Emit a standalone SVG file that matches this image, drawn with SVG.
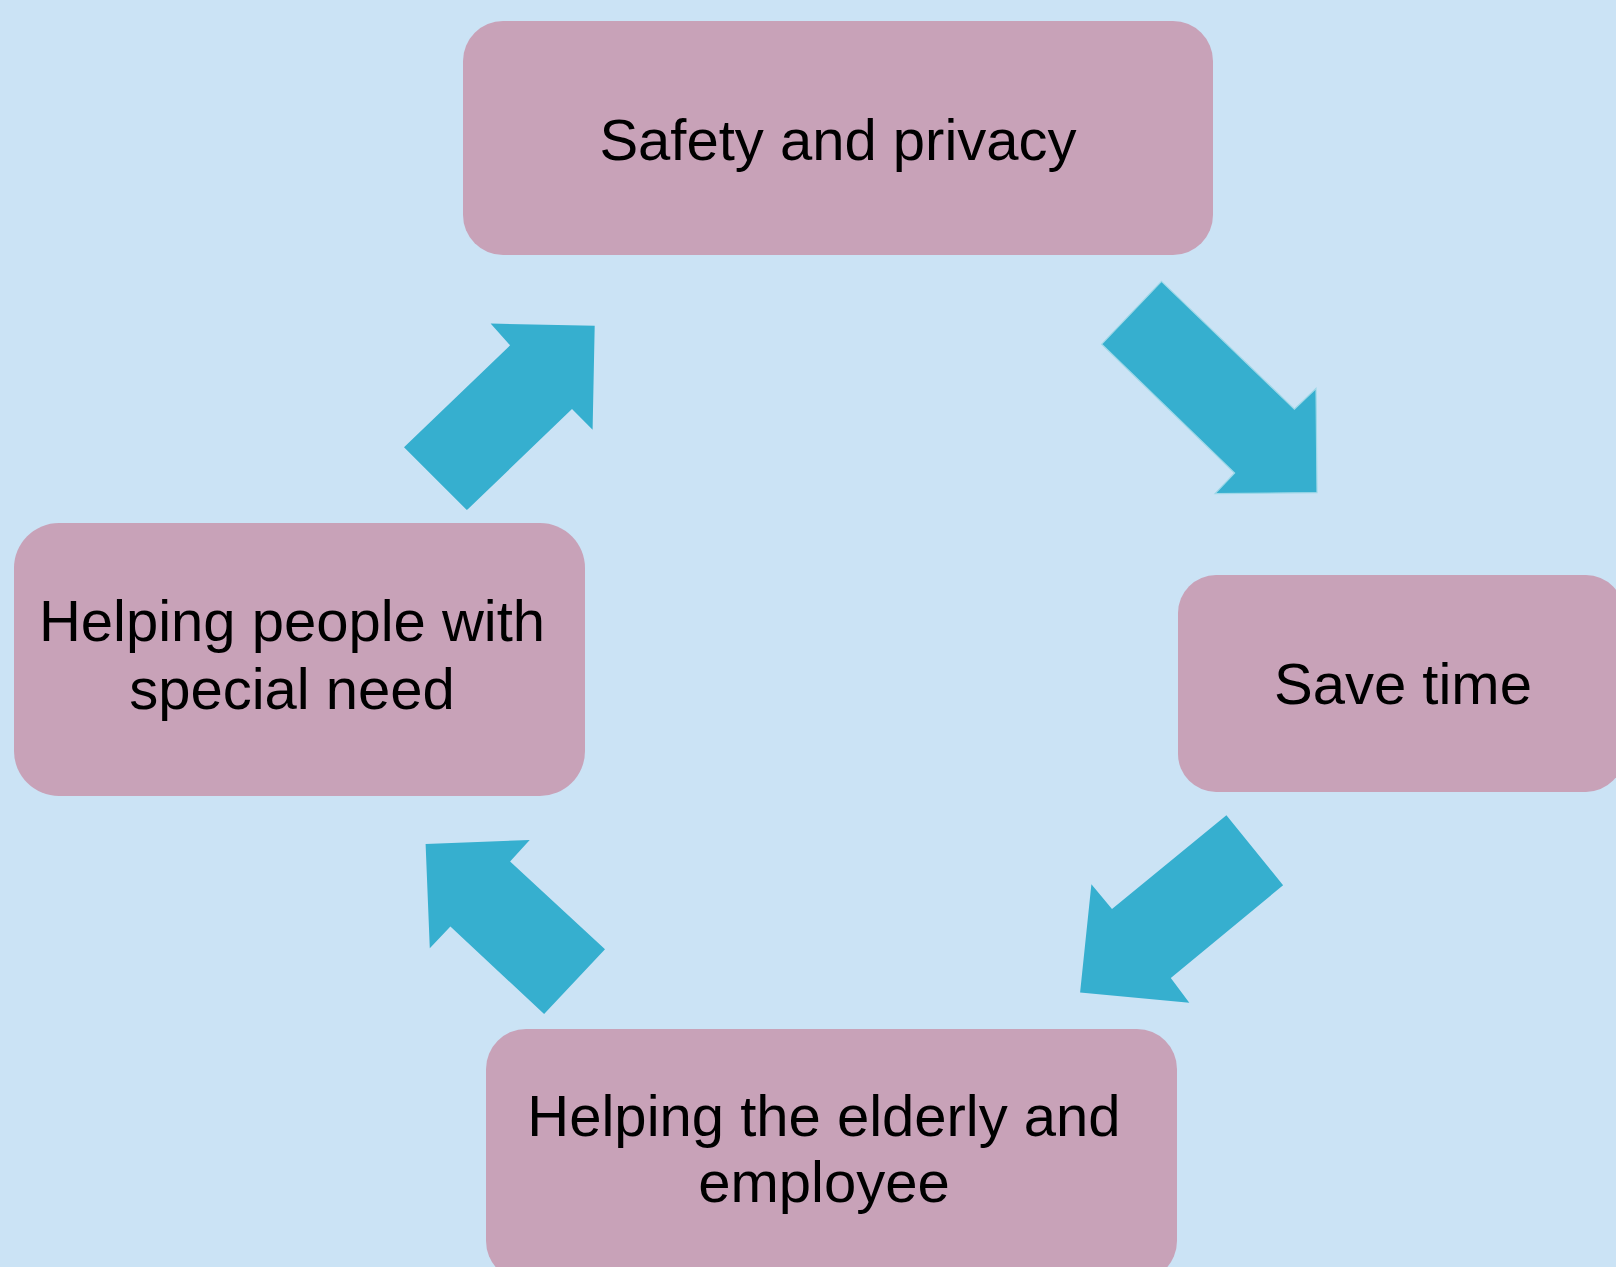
<svg xmlns="http://www.w3.org/2000/svg" width="1616" height="1267" viewBox="0 0 1616 1267">
<style>
.bg{fill:#CBE3F5}
.box{fill:#C8A2B8}
.arrow{fill:#36AFCF}
.outlined{stroke:#9FD8E8;stroke-width:1.2;stroke-linejoin:miter}
.t{font-family:"Liberation Sans","Arial",sans-serif;font-size:58px;fill:#000;text-anchor:middle}
</style>
<rect class="bg" x="0" y="0" width="1616" height="1267"/>
<g id="node-safety">
<rect class="box" x="463" y="21" width="750" height="234" rx="40" ry="40"/>
<text class="t" x="838" y="160">Safety and privacy</text>
</g>
<g id="node-savetime">
<rect class="box" x="1178" y="575" width="446" height="217" rx="38" ry="38"/>
<text class="t" x="1403" y="704">Save time</text>
</g>
<g id="node-elderly">
<rect class="box" x="486" y="1029" width="691" height="252" rx="40" ry="40"/>
<text class="t" x="824" y="1136">Helping the elderly and</text>
<text class="t" x="824" y="1202">employee</text>
</g>
<g id="node-special">
<rect class="box" x="14" y="523" width="571" height="273" rx="45" ry="45"/>
<text class="t" x="292" y="641">Helping people with</text>
<text class="t" x="292" y="709">special need</text>
</g>
<g id="connectors">
<polygon class="arrow outlined" points="1161.5,281.4 1294.4,409.1 1316,388.5 1317,492.6 1215.1,493.6 1234.6,473 1101.7,344.2"/>
<polygon class="arrow" points="1226.4,815.2 1283.1,885.3 1170.8,978 1189.3,1002.8 1080.1,992.5 1091.4,884.2 1112,909"/>
<polygon class="arrow" points="529.7,840 510.1,861.6 605,949.2 544.1,1014.1 450.4,926.5 429.8,948.2 425.6,844.1"/>
<polygon class="arrow" points="490.6,323.6 594.7,325.7 592.6,429.8 572,409.1 466.9,510.1 404,447.3 510.1,345.3"/>
</g>
</svg>
